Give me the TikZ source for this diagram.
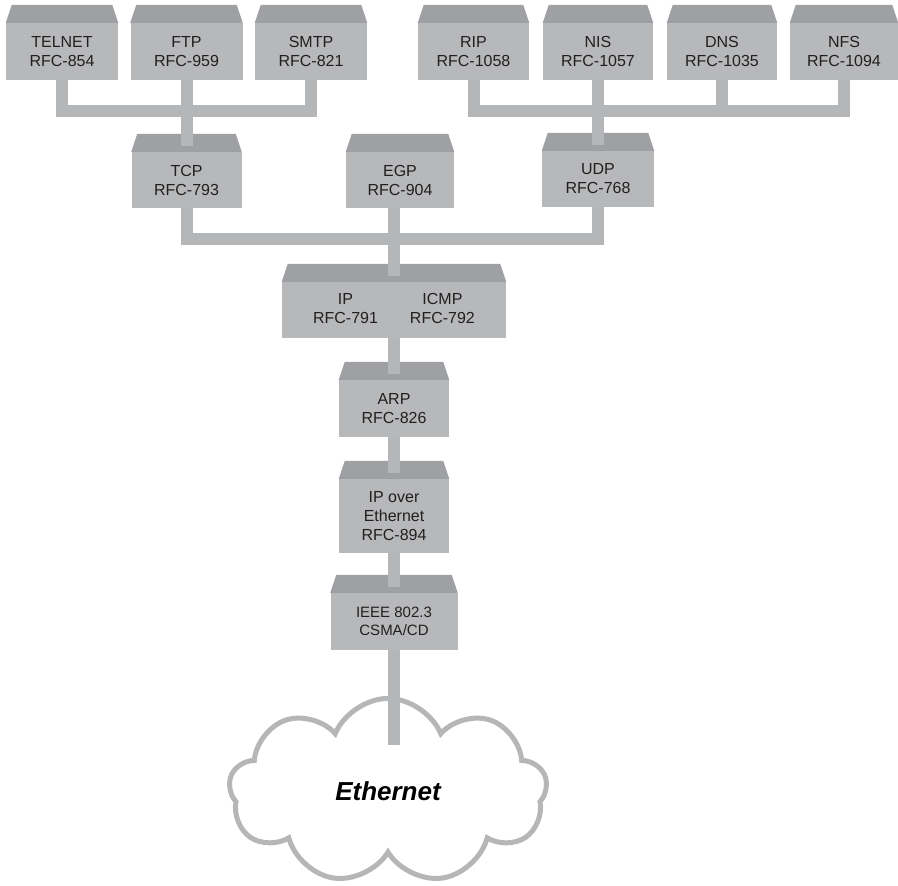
\documentclass[tikz,border=0pt]{standalone}
\usepackage{fontspec}
\setmainfont{Liberation Sans}
\usetikzlibrary{shapes.symbols}
\definecolor{bodygray}{HTML}{B7B8BA}
\definecolor{roofgray}{HTML}{9FA0A3}
\definecolor{wiregray}{HTML}{B5B6B8}
\definecolor{labelink}{HTML}{231F20}
\tikzset{
  layerbox/.style={
    rectangle, fill=bodygray, inner sep=0pt,
    minimum width=112pt, minimum height=57pt, align=center,
    text=labelink, font=\fontsize{16}{19}\selectfont
  },
  roof/.style={fill=roofgray},
  wire/.style={draw=wiregray, line width=12pt, line join=miter},
  netcloud/.style={
    cloud, cloud puffs=9, cloud puff arc=135, draw=wiregray,
    line width=5pt, fill=white, minimum width=318pt, minimum height=183pt,
    font=\fontsize{26}{30}\selectfont\bfseries\itshape
  },
}

\begin{document}
\begin{tikzpicture}[x=1pt,y=-1pt]
  \useasboundingbox (0,0) rectangle (898,886);

  % application layer
  \node[layerbox] (telnet) at (62,51.5) {TELNET\\RFC-854};
  \node[layerbox] (ftp) at (186.5,51.5) {FTP\\RFC-959};
  \node[layerbox] (smtp) at (311,51.5) {SMTP\\RFC-821};
  \node[layerbox, minimum width=111pt] (rip) at (473.5,51.5) {RIP\\RFC-1058};
  \node[layerbox, minimum width=110pt] (nis) at (598,51.5) {NIS\\RFC-1057};
  \node[layerbox, minimum width=110pt] (dns) at (722,51.5) {DNS\\RFC-1035};
  \node[layerbox, minimum width=108pt] (nfs) at (844,51.5) {NFS\\RFC-1094};

  % transport layer
  \node[layerbox, minimum width=110pt, minimum height=56pt] (tcp) at (186.5,180) {TCP\\RFC-793};
  \node[layerbox, minimum width=108pt, minimum height=56pt] (egp) at (400,180) {EGP\\RFC-904};
  \node[layerbox, minimum width=112pt, minimum height=56pt] (udp) at (598,179) {UDP\\RFC-768};

  % network and link layers
  \node[layerbox, minimum width=224pt, minimum height=56pt] (ip) at (394,310)
    {\begin{tabular}{@{}c@{\hspace{32pt}}c@{}}IP & ICMP\\RFC-791 & RFC-792\end{tabular}};
  \node[layerbox, minimum width=110pt] (arp) at (394,408.5) {ARP\\RFC-826};
  \node[layerbox, minimum width=110pt, minimum height=74pt] (ipoe) at (394,516) {IP over\\Ethernet\\RFC-894};
  \node[layerbox, minimum width=127pt, font=\fontsize{15}{18}\selectfont] (ieee) at (394,621.5) {IEEE 802.3\\CSMA/CD};

  \foreach \n in {telnet,ftp,smtp,rip,nis,dns,nfs,tcp,egp,udp,ip,arp,ipoe,ieee}
    \fill[roof] (\n.north west) -- ([xshift=6pt,yshift=18pt]\n.north west)
      -- ([xshift=-6pt,yshift=18pt]\n.north east) -- (\n.north east) -- cycle;

  \node[netcloud] (ether) at (388,791) {Ethernet};

  \coordinate (lbus) at (186.5,111);
  \coordinate (rbus) at (598,111);
  \coordinate (mbus) at (394,239);
  \coordinate (tap) at (394,745);

  \draw[wire] (telnet.south) |- (lbus) -| (smtp.south);
  \draw[wire] (rip.south) |- (rbus) -| (nfs.south);
  \draw[wire] (dns.south) -- (dns.south |- rbus);
  \draw[wire] (tcp.south) |- (mbus) -| (udp.south);
  \draw[wire] (egp.south -| ip.north) -- ([yshift=6pt]ip.north);
  \draw[wire] (ieee.south) -- (tap);

  \foreach \a/\b in {ftp/tcp,nis/udp,ip/arp,arp/ipoe,ipoe/ieee}
    \draw[wire] (\a.south) -- ([yshift=6pt]\b.north);
\end{tikzpicture}
\end{document}
